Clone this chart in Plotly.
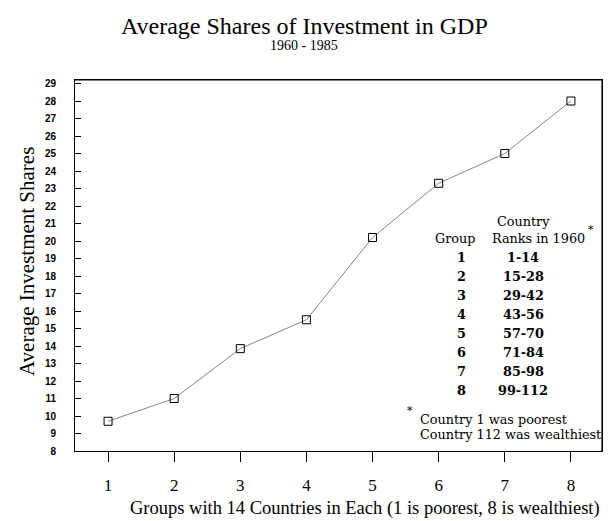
import plotly.graph_objects as go

# ---- data ----
groups = [1, 2, 3, 4, 5, 6, 7, 8]
avg_investment = [9.7, 11.0, 13.85, 15.5, 20.2, 23.3, 25.0, 28.0]
y_ticks = list(range(8, 30))
table_groups = ["1", "2", "3", "4", "5", "6", "7", "8"]
table_ranks = ["1-14", "15-28", "29-42", "43-56", "57-70", "71-84", "85-98", "99-112"]

title_text = "Average Shares of Investment in GDP"
subtitle_text = "1960 - 1985"
x_title = "Groups with 14 Countries in Each (1 is poorest, 8 is wealthiest)"
y_title = "Average Investment Shares"

W, H = 615, 521
L, R, T, B = 75, 602, 80, 451

def px(x):
    return (x - L) / (R - L)

def py(y):
    return (B - y) / (B - T)

serif = "Liberation Serif"
tserif = "DejaVu Serif"

fig = go.Figure()
fig.add_trace(go.Scatter(
    x=groups, y=avg_investment, mode="lines+markers",
    line=dict(color="#666666", width=0.8),
    marker=dict(symbol="square-open", size=8, color="black", line=dict(width=1, color="black")),
    showlegend=False, hoverinfo="x+y",
))

ann = []
# table header
ann.append(dict(x=px(523), y=py(221), text="Country"))
ann.append(dict(x=px(455), y=py(238), text="Group"))
ann.append(dict(x=px(538), y=py(238), text="Ranks in 1960"))
ann.append(dict(x=px(591), y=py(229), text="*", font=dict(family=tserif, size=11, color="black")))
row0, step = 257, 19.1
for i, (g, r) in enumerate(zip(table_groups, table_ranks)):
    yy = row0 + i * step
    ann.append(dict(x=px(461), y=py(yy), text="<b>" + g + "</b>"))
    ann.append(dict(x=px(523), y=py(yy), text="<b>" + r + "</b>"))
# footnote
ann.append(dict(x=px(410), y=py(410), text="*", font=dict(family=tserif, size=11, color="black")))
ann.append(dict(x=px(418), y=py(419), text="Country 1 was poorest", xanchor="left",
                font=dict(family=tserif, size=12.8, color="black")))
ann.append(dict(x=px(418), y=py(434), text="Country 112 was wealthiest", xanchor="left",
                font=dict(family=tserif, size=12.8, color="black")))

for a in ann:
    a.setdefault("xanchor", "center")
    a.setdefault("font", dict(family=tserif, size=12.8, color="black"))
    a.update(xref="paper", yref="paper", yanchor="middle", showarrow=False)

# titles
ann.append(dict(x=px(304), y=py(26), xref="paper", yref="paper", text=title_text, showarrow=False,
                xanchor="center", yanchor="middle", font=dict(family=serif, size=24, color="black")))
ann.append(dict(x=px(304), y=py(46), xref="paper", yref="paper", text=subtitle_text, showarrow=False,
                xanchor="center", yanchor="middle", font=dict(family=serif, size=14, color="black")))
ann.append(dict(x=px(365), y=py(508), xref="paper", yref="paper", text=x_title, showarrow=False,
                xanchor="center", yanchor="middle", font=dict(family=serif, size=18.5, color="black")))
ann.append(dict(x=px(27), y=py(262), xref="paper", yref="paper", text=y_title, showarrow=False,
                textangle=-90, xanchor="center", yanchor="middle", font=dict(family=serif, size=21, color="black")))

frame = [
    dict(type="line", xref="x domain", yref="y domain", x0=0, x1=1, y0=1, y1=1),
    dict(type="line", xref="x domain", yref="y domain", x0=1, x1=1, y0=0, y1=1),
]
for s in frame:
    s.update(line=dict(color="black", width=1.2), layer="above")

fig.update_layout(
    width=W, height=H,
    margin=dict(l=L, r=W - R, t=T, b=H - B, pad=0),
    paper_bgcolor="white", plot_bgcolor="white",
    annotations=ann,
    shapes=frame,
    xaxis=dict(range=[0.5, 8.47], tickvals=groups, ticks="outside", ticklen=10, tickwidth=1,
               tickcolor="black", showline=True, linecolor="black", linewidth=1, mirror=True,
               showgrid=False, zeroline=False, ticklabelstandoff=9,
               tickfont=dict(family=serif, size=17, color="black")),
    yaxis=dict(range=[8, 29.2], tickvals=y_ticks, ticks="inside", ticklen=6, tickwidth=1,
               tickcolor="black", showline=True, linecolor="black", linewidth=1, mirror=True,
               showgrid=False, zeroline=False, ticklabelstandoff=16,
               tickfont=dict(family="Liberation Sans", size=10, color="black", weight="bold")),
)

fig.write_html("out.html", config={"displayModeBar": False},
               post_script="document.body.style.margin='0px';")
